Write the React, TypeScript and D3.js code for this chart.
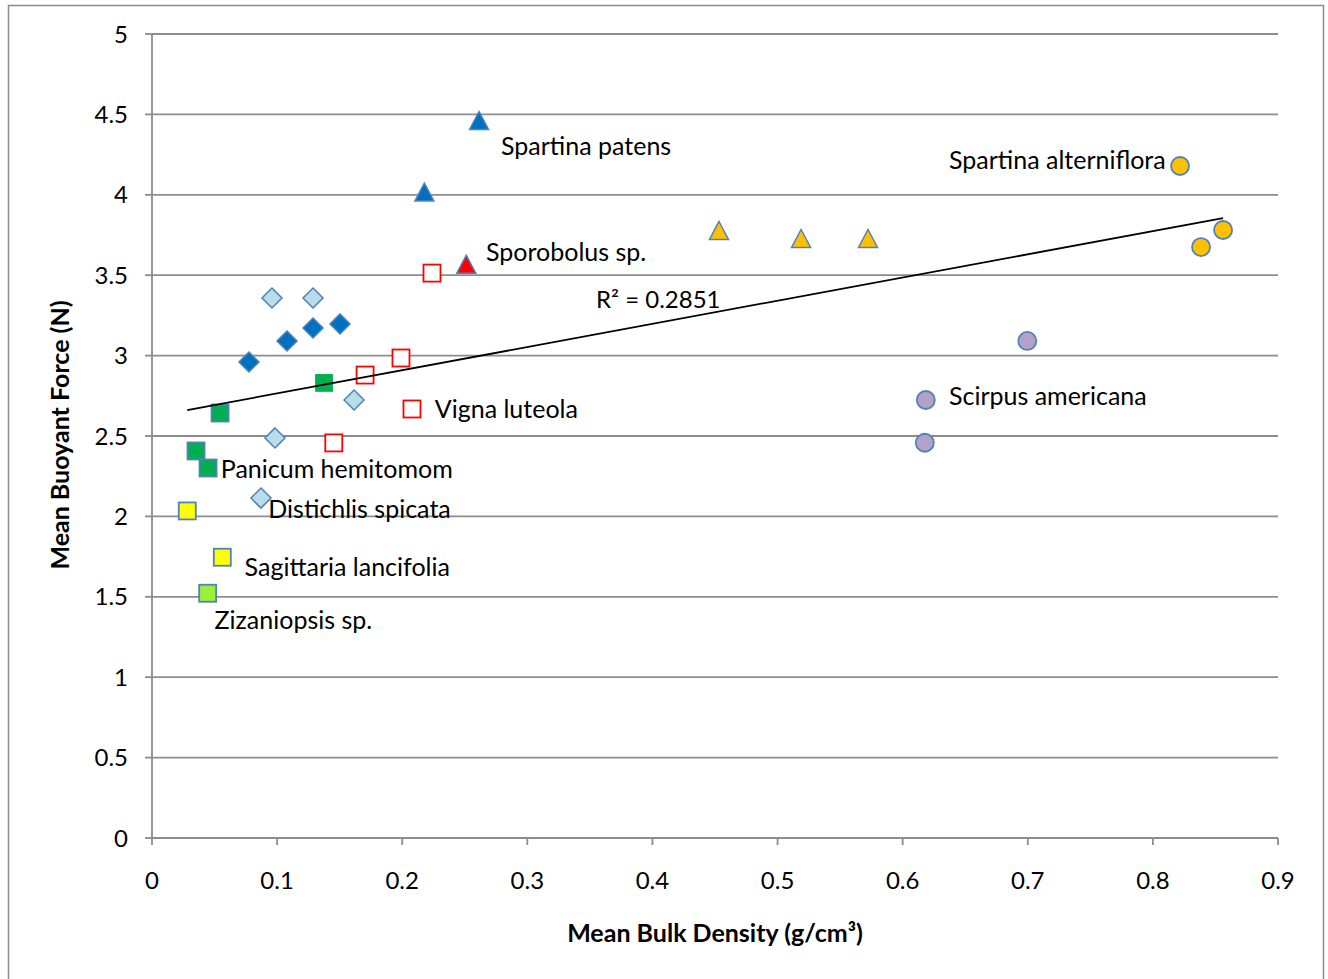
import React from "react";
import * as d3 from "d3";

// ---- data ----
const distichlis: [number, number][] = [
  [0.0959, 3.358], [0.1287, 3.358], [0.1615, 2.724], [0.0983, 2.488], [0.0871, 2.114],
];
const darkDiamonds: [number, number][] = [
  [0.0775, 2.96], [0.1079, 3.091], [0.1287, 3.172], [0.1503, 3.197],
];
const panicum: [number, number][] = [
  [0.0544, 2.643], [0.1375, 2.83], [0.0352, 2.407], [0.0448, 2.301],
];
const sagittaria: [number, number][] = [[0.0282, 2.034], [0.0562, 1.746]];
const zizaniopsis: [number, number][] = [[0.0445, 1.522]];
const vigna: [number, number][] = [
  [0.2238, 3.513], [0.199, 2.985], [0.1703, 2.879], [0.2078, 2.668], [0.1453, 2.457],
];
const spartinaPatens: [number, number][] = [[0.2614, 4.459], [0.2177, 4.014]];
const sporobolus: [number, number][] = [[0.2512, 3.565]];
const orangeTriangles: [number, number][] = [[0.4532, 3.775], [0.5188, 3.725], [0.5723, 3.725]];
const alterniflora: [number, number][] = [[0.8217, 4.179], [0.8385, 3.675], [0.8561, 3.781]];
const scirpus: [number, number][] = [[0.6996, 3.091], [0.6185, 2.724], [0.6177, 2.458]];

const xTicks = [0, 0.1, 0.2, 0.3, 0.4, 0.5, 0.6, 0.7, 0.8, 0.9];
const yTicks = [0, 0.5, 1, 1.5, 2, 2.5, 3, 3.5, 4, 4.5, 5];
const r2Label = "R² = 0.2851";

const labels: { text: string; x: number; y: number }[] = [
  { text: "Spartina patens", x: 0.279, y: 4.25 },
  { text: "Sporobolus sp.", x: 0.267, y: 3.59 },
  { text: "Spartina alterniflora", x: 0.637, y: 4.16 },
  { text: "Scirpus americana", x: 0.637, y: 2.69 },
  { text: "Vigna luteola", x: 0.226, y: 2.61 },
  { text: "Panicum hemitomom", x: 0.055, y: 2.24 },
  { text: "Distichlis spicata", x: 0.093, y: 1.99 },
  { text: "Sagittaria lancifolia", x: 0.074, y: 1.63 },
  { text: "Zizaniopsis sp.", x: 0.05, y: 1.3 },
];

const W = 1328;
const H = 979;
const FONT = "Lato, 'Open Sans', sans-serif";
const GRID = "#8c8c8c";
const BLUE_EDGE = "#4f81bd";

export default function App() {
  const x = d3.scaleLinear().domain([0, 0.9]).range([152, 1278]);
  const y = d3.scaleLinear().domain([0, 5]).range([838, 34]);

  const all = [
    ...distichlis, ...darkDiamonds, ...panicum, ...sagittaria, ...zizaniopsis, ...vigna,
    ...spartinaPatens, ...sporobolus, ...orangeTriangles, ...alterniflora, ...scirpus,
  ];
  const mx = d3.mean(all, (d) => d[0])!;
  const my = d3.mean(all, (d) => d[1])!;
  const sxy = d3.sum(all, (d) => (d[0] - mx) * (d[1] - my));
  const sxx = d3.sum(all, (d) => (d[0] - mx) ** 2);
  const slope = sxy / sxx;
  const icpt = my - slope * mx;
  const [xmin, xmax] = d3.extent(all, (d) => d[0]) as [number, number];
  const trend = d3.line<number>().x((v) => x(v)).y((v) => y(icpt + slope * v))([xmin, xmax]);

  const diamond = (pts: [number, number][], fill: string, key: string) =>
    pts.map((d, i) => {
      const cx = x(d[0]), cy = y(d[1]), s = 10;
      return (
        <path key={key + i} d={`M${cx},${cy - s}L${cx + s},${cy}L${cx},${cy + s}L${cx - s},${cy}Z`}
          fill={fill} stroke={BLUE_EDGE} strokeWidth={1.5} />
      );
    });
  const square = (pts: [number, number][], fill: string, stroke: string, key: string, s = 8.5) =>
    pts.map((d, i) => (
      <rect key={key + i} x={x(d[0]) - s} y={y(d[1]) - s} width={2 * s} height={2 * s}
        fill={fill} stroke={stroke} strokeWidth={1.8} />
    ));
  const triangle = (pts: [number, number][], fill: string, key: string) =>
    pts.map((d, i) => {
      const cx = x(d[0]), cy = y(d[1]);
      return (
        <path key={key + i} d={`M${cx},${cy - 9.5}L${cx + 9.5},${cy + 8.5}L${cx - 9.5},${cy + 8.5}Z`}
          fill={fill} stroke={BLUE_EDGE} strokeWidth={1.5} strokeLinejoin="miter" />
      );
    });
  const circle = (pts: [number, number][], fill: string, key: string) =>
    pts.map((d, i) => (
      <circle key={key + i} cx={x(d[0])} cy={y(d[1])} r={9} fill={fill} stroke={BLUE_EDGE} strokeWidth={1.8} />
    ));

  return (
    <svg width={W} height={H} style={{ position: "absolute", left: 0, top: 0, background: "#fff" }}
      fontFamily={FONT}>
      <rect x={8.5} y={5.5} width={1315} height={H + 10} fill="#fff" stroke={GRID} strokeWidth={1.5} />
      {/* grid */}
      {yTicks.map((t) => (
        <g key={"gy" + t}>
          {t > 0 && <line x1={x(0)} x2={x(0.9)} y1={y(t)} y2={y(t)} stroke={GRID} strokeWidth={1.8} />}
          <line x1={x(0) - 7} x2={x(0)} y1={y(t)} y2={y(t)} stroke={GRID} strokeWidth={1.8} />
          <text x={128} y={y(t) + 8.5} textAnchor="end" fontSize={24} fill="#000">{String(t)}</text>
        </g>
      ))}
      <line x1={x(0)} x2={x(0)} y1={y(5)} y2={y(0)} stroke={GRID} strokeWidth={1.8} />
      <line x1={x(0)} x2={x(0.9)} y1={y(0)} y2={y(0)} stroke={GRID} strokeWidth={1.8} />
      {xTicks.map((t) => (
        <g key={"gx" + t}>
          <line x1={x(t)} x2={x(t)} y1={y(0)} y2={y(0) + 7} stroke={GRID} strokeWidth={1.8} />
          <text x={x(t)} y={889} textAnchor="middle" fontSize={24} fill="#000">{String(t)}</text>
        </g>
      ))}
      {/* axis titles */}
      <text x={715} y={942} textAnchor="middle" fontSize={25} fontWeight="bold">
        Mean Bulk Density (g/cm³)
      </text>
      <text transform="translate(69,435) rotate(-90)" textAnchor="middle" fontSize={25} fontWeight="bold">
        Mean Buoyant Force (N)
      </text>
      {/* markers */}
      {diamond(distichlis, "#b7dee8", "dl")}
      {diamond(darkDiamonds, "#0070c0", "dd")}
      {square(panicum.slice(0, 1), "#00b050", BLUE_EDGE, "pa")}
      {square(panicum.slice(1, 2), "#00b050", "#00b050", "pb", 8)}
      {square(panicum.slice(2), "#00b050", BLUE_EDGE, "pc")}
      {square(sagittaria, "#ffff00", BLUE_EDGE, "sa")}
      {square(zizaniopsis, "#9bf03b", BLUE_EDGE, "zi")}
      {square(vigna, "#ffffff", "#ff0000", "vi")}
      {triangle(spartinaPatens, "#0070c0", "sp")}
      {triangle(sporobolus, "#ff0000", "so")}
      {triangle(orangeTriangles, "#ffc000", "ot")}
      {circle(alterniflora, "#ffc000", "al")}
      {circle(scirpus, "#b3a2c7", "sc")}
      {/* trendline */}
      <path d={trend ?? ""} fill="none" stroke="#000" strokeWidth={1.8} />
      <text x={596} y={308} fontSize={24}>{r2Label}</text>
      {labels.map((l) => (
        <text key={l.text} x={x(l.x)} y={y(l.y)} fontSize={25} fill="#000">{l.text}</text>
      ))}
    </svg>
  );
}
